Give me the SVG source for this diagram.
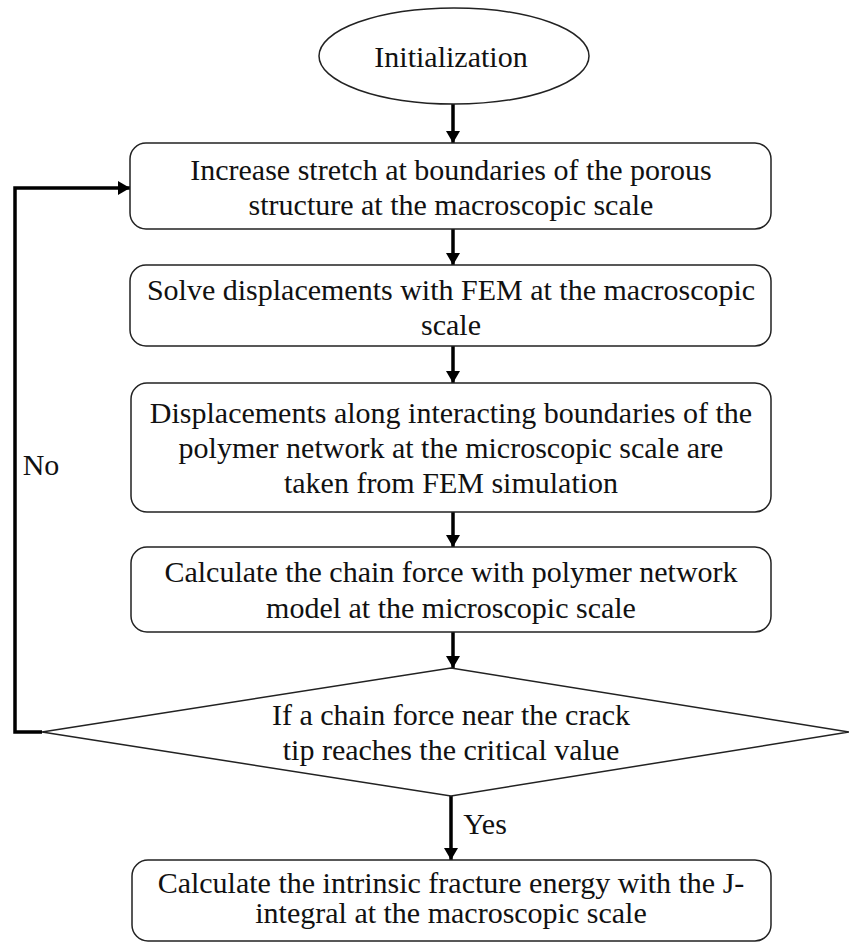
<svg xmlns="http://www.w3.org/2000/svg" width="849" height="944" viewBox="0 0 849 944">
<style>
.n{fill:#fff;stroke:#222;stroke-width:1.5}
.t{font-family:"Liberation Serif","Times New Roman",serif;font-size:30px;fill:#111;text-anchor:middle}
.c{fill:none;stroke:#000;stroke-width:3.5}
</style>
<defs>
<marker id="ah" viewBox="0 0 12 14" refX="12" refY="7" markerWidth="12" markerHeight="14" markerUnits="userSpaceOnUse" orient="auto">
<path d="M0,0 L12,7 L0,14 z" fill="#000"/>
</marker>
</defs>
<rect width="849" height="944" fill="#fff"/>
<g id="connectors">
<line class="c" x1="453" y1="104" x2="453" y2="143" marker-end="url(#ah)"/>
<line class="c" x1="453" y1="229" x2="453" y2="265" marker-end="url(#ah)"/>
<line class="c" x1="453" y1="346" x2="453" y2="383" marker-end="url(#ah)"/>
<line class="c" x1="453" y1="512" x2="453" y2="547" marker-end="url(#ah)"/>
<line class="c" x1="453" y1="632" x2="453" y2="668" marker-end="url(#ah)"/>
<line class="c" x1="451" y1="796" x2="451" y2="860" marker-end="url(#ah)"/>
<polyline class="c" points="42,732 15,732 15,188 130,188" marker-end="url(#ah)"/>
<text class="t" x="41" y="475">No</text>
<text class="t" x="485" y="834">Yes</text>
</g>
<g id="init">
<ellipse class="n" cx="454" cy="56" rx="135" ry="48"/>
<text class="t" x="451" y="67">Initialization</text>
</g>
<g id="step1">
<rect class="n" x="130" y="143" width="641" height="86" rx="16"/>
<text class="t" x="451" y="180">Increase stretch at boundaries of the porous</text>
<text class="t" x="451" y="215">structure at the macroscopic scale</text>
</g>
<g id="step2">
<rect class="n" x="130" y="265" width="641" height="81" rx="16"/>
<text class="t" x="451" y="300">Solve displacements with FEM at the macroscopic</text>
<text class="t" x="451" y="335">scale</text>
</g>
<g id="step3">
<rect class="n" x="131" y="383" width="640" height="129" rx="16"/>
<text class="t" x="451" y="423">Displacements along interacting boundaries of the</text>
<text class="t" x="451" y="458">polymer network at the microscopic scale are</text>
<text class="t" x="451" y="493">taken from FEM simulation</text>
</g>
<g id="step4">
<rect class="n" x="131" y="547" width="640" height="85" rx="16"/>
<text class="t" x="451" y="582">Calculate the chain force with polymer network</text>
<text class="t" x="451" y="618">model at the microscopic scale</text>
</g>
<g id="decision">
<polygon class="n" points="42,732 451,668 849,732 451,796"/>
<text class="t" x="451" y="725">If a chain force near the crack</text>
<text class="t" x="451" y="760">tip reaches the critical value</text>
</g>
<g id="result">
<rect class="n" x="132" y="860" width="639" height="81" rx="16"/>
<text class="t" x="451" y="893">Calculate the intrinsic fracture energy with the J-</text>
<text class="t" x="451" y="923">integral at the macroscopic scale</text>
</g>
</svg>
